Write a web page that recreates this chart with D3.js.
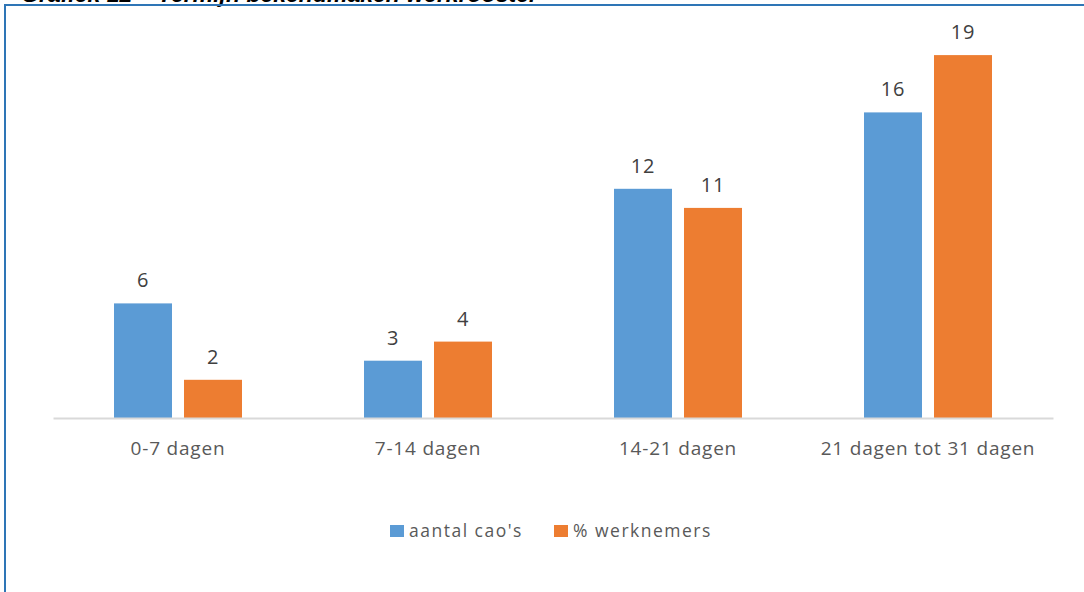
<!DOCTYPE html>
<html>
<head>
<meta charset="utf-8">
<script src="https://cdn.jsdelivr.net/npm/d3@7"></script>
<style>
  html, body { margin: 0; padding: 0; background: #fff; }
  svg { display: block; }
</style>
</head>
<body>
<svg id="chart" width="1084" height="592"></svg>
<script>
// Termijn bekendmaken werkrooster
const categories = ["0-7 dagen", "7-14 dagen", "14-21 dagen", "21 dagen tot 31 dagen"];
const seriesNames = ["aantal cao's", "% werknemers"];
const aantalCaos = [6, 3, 12, 16];
const pctWerknemers = [2, 4, 11, 19];
const seriesColors = ["#5b9bd5", "#ed7d31"];
const titleText = "Grafiek 12 \u2013 Termijn bekendmaken werkrooster";

const svg = d3.select("#chart");
const W = 1084, H = 592;

// Frame: title sits above the visible area, blue rule on top and left
svg.append("text")
  .attr("x", 21).attr("y", 2)
  .attr("font-family", "Liberation Sans, Arial, sans-serif")
  .attr("font-weight", "bold")
  .attr("font-style", "italic")
  .attr("font-size", 23)
  .attr("fill", "#000")
  .text(titleText);

svg.append("line")
  .attr("x1", 4).attr("x2", W).attr("y1", 5).attr("y2", 5)
  .attr("stroke", "#2e75b6").attr("stroke-width", 2);
svg.append("line")
  .attr("x1", 5).attr("x2", 5).attr("y1", 4).attr("y2", H)
  .attr("stroke", "#2e75b6").attr("stroke-width", 2);

const plot = { left: 53, right: 1053, top: 36, bottom: 418 };

const x0 = d3.scaleBand()
  .domain(categories)
  .range([plot.left, plot.right])
  .paddingInner(0).paddingOuter(0);

const barW = 58, barGap = 12;
const x1 = d3.scaleBand()
  .domain(seriesNames)
  .range([-(barW + barGap / 2), barW + barGap / 2])
  .paddingInner(barGap / (barW + barGap))
  .paddingOuter(0);

const y = d3.scaleLinear().domain([0, 20]).range([plot.bottom, plot.top]);

const rows = categories.map((c, i) => ({
  cat: c,
  values: [
    { name: seriesNames[0], value: aantalCaos[i], color: seriesColors[0] },
    { name: seriesNames[1], value: pctWerknemers[i], color: seriesColors[1] }
  ]
}));

const groups = svg.append("g").selectAll("g")
  .data(rows).join("g")
  .attr("transform", d => `translate(${x0(d.cat) + x0.bandwidth() / 2},0)`);

groups.selectAll("rect")
  .data(d => d.values).join("rect")
  .attr("x", d => x1(d.name))
  .attr("width", x1.bandwidth())
  .attr("y", d => y(d.value))
  .attr("height", d => y(0) - y(d.value))
  .attr("fill", d => d.color);

groups.selectAll("text.val")
  .data(d => d.values).join("text")
  .attr("class", "val")
  .attr("x", d => x1(d.name) + x1.bandwidth() / 2)
  .attr("y", d => y(d.value) - 16)
  .attr("text-anchor", "middle")
  .attr("font-family", "Open Sans, sans-serif")
  .attr("font-size", 20)
  .attr("letter-spacing", 0.8)
  .attr("fill", "#404040")
  .text(d => d.value);

// Category axis
const xAxis = d3.axisBottom(x0).tickSize(0).tickPadding(0);
const axisG = svg.append("g")
  .attr("transform", `translate(0,${plot.bottom})`)
  .call(xAxis);
axisG.select(".domain")
  .attr("stroke", "#d9d9d9").attr("stroke-width", 2);
axisG.selectAll(".tick text")
  .attr("dy", 0).attr("y", 37)
  .attr("font-family", "Open Sans, sans-serif")
  .attr("font-size", 19)
  .attr("letter-spacing", 0.8)
  .attr("fill", "#595959");

// Legend
const legendItems = [
  { name: seriesNames[0], color: seriesColors[0], x: 390 },
  { name: seriesNames[1], color: seriesColors[1], x: 554 }
];
const legend = svg.append("g").selectAll("g")
  .data(legendItems).join("g")
  .attr("transform", d => `translate(${d.x},525)`);
legend.append("rect")
  .attr("width", 14).attr("height", 12)
  .attr("fill", d => d.color);
legend.append("text")
  .attr("x", 19).attr("y", 12)
  .attr("font-family", "Open Sans, sans-serif")
  .attr("font-size", 17.5)
  .attr("letter-spacing", 1.5)
  .attr("fill", "#595959")
  .text(d => d.name);
</script>
</body>
</html>
